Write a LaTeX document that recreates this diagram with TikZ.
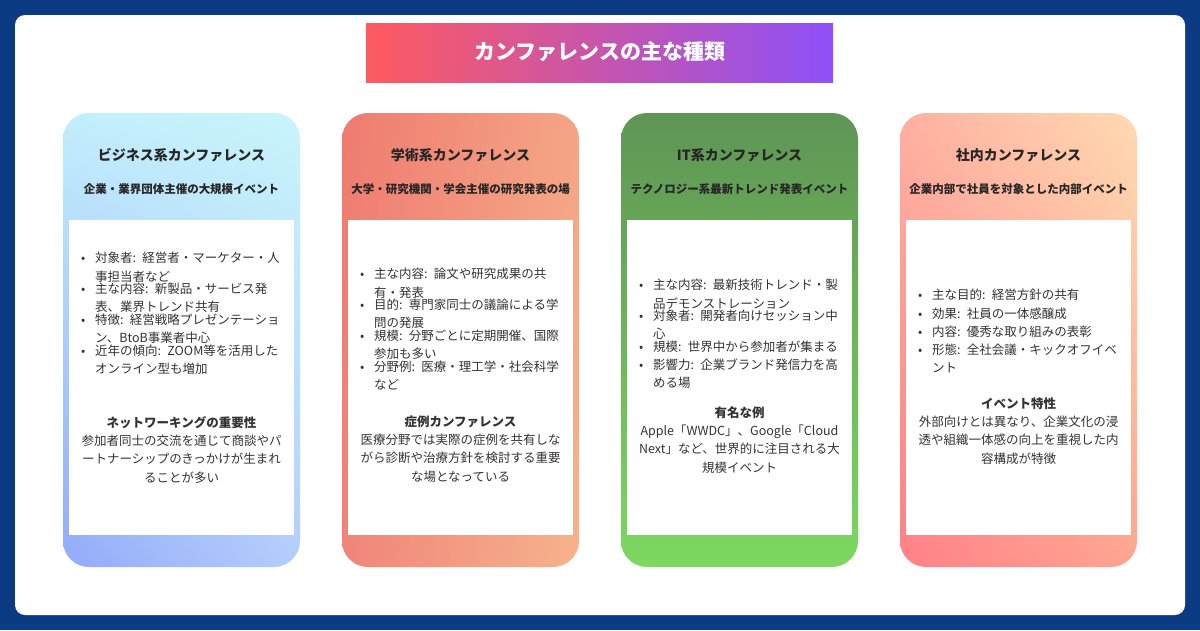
\documentclass[tikz,border=0pt]{standalone}
\usepackage{fontspec}
\setmainfont{Noto Sans CJK JP}
\usetikzlibrary{shadings}
\definecolor{bgblue}{HTML}{0B3B82}
\definecolor{txt}{HTML}{333333}
\definecolor{tl}{HTML}{FF5A5F}\definecolor{tr}{HTML}{8E50F8}
\definecolor{aUL}{HTML}{C3EEFC}\definecolor{aUR}{HTML}{C8F5FB}\definecolor{aLL}{HTML}{93AAFA}\definecolor{aLR}{HTML}{B4CEFB}
\definecolor{bUL}{HTML}{EF7B70}\definecolor{bUR}{HTML}{F4A585}\definecolor{bLL}{HTML}{F0857A}\definecolor{bLR}{HTML}{F6B38C}
\definecolor{cT}{HTML}{5F9555}\definecolor{cB}{HTML}{7CD860}
\definecolor{dUL}{HTML}{FFB0A0}\definecolor{dUR}{HTML}{FFDAB2}\definecolor{dLL}{HTML}{FF8088}\definecolor{dLR}{HTML}{FFA590}
\newcommand\bu[1]{\noindent\makebox[14pt][l]{\textbullet}\parbox[t]{200pt}{\fontsize{12.5}{18.3}\selectfont #1}\par}
\tikzset{
 card/.style={rounded corners=26pt},
 ctitle/.style={font=\bfseries\fontsize{14}{16}\selectfont, text=black!85},
 csub/.style={font=\bfseries\fontsize{11.5}{14}\selectfont, text=black!85},
 blist/.style={anchor=north west, text width=218pt, inner sep=0pt, text=txt, font=\fontsize{12.5}{18.3}\selectfont},
 head/.style={font=\bfseries\fontsize{12.5}{15}\selectfont, text=txt},
 para/.style={align=center, text=txt, inner sep=0pt, font=\fontsize{12.5}{18.3}\selectfont},
}
\begin{document}
\begin{tikzpicture}[x=1pt,y=-1pt]
\fill[bgblue] (0,0) rectangle (1200,630);
\useasboundingbox (0,0) rectangle (1200,630);
\fill[white,rounded corners=10pt] (15,15) rectangle (1185,615);
\shade[left color=tl, right color=tr] (366,23) rectangle (833,82);
\node[font=\bfseries\fontsize{21}{24}\selectfont, text=white] (title) at (600,52) {カンファレンスの主な種類};
% cards
\shade[card, upper left=aUL, upper right=aUR, lower left=aLL, lower right=aLR] (63,113) rectangle (300,567);
\shade[card, upper left=bUL, upper right=bUR, lower left=bLL, lower right=bLR] (342,113) rectangle (579,567);
\shade[card, top color=cT, bottom color=cB] (621,113) rectangle (858,567);
\shade[card, upper left=dUL, upper right=dUR, lower left=dLL, lower right=dLR] (900,113) rectangle (1137,567);
\foreach \x in {69,348,627,906} \fill[white] (\x,220) rectangle ({\x+225},535);
% card 1
\node[ctitle] (t1) at (181.5,155) {ビジネス系カンファレンス};
\node[csub] (s1) at (181.5,189) {企業・業界団体主催の大規模イベント};
\node[blist] (b1) at (81,252) {\bu{対象者: 経営者・マーケター・人\\事担当者など}\bu{主な内容: 新製品・サービス発\\表、業界トレンド共有}\bu{特徴: 経営戦略プレゼンテーショ\\ン、BtoB事業者中心}\bu{近年の傾向: ZOOM等を活用した\\オンライン型も増加}};
\node[head] (h1) at (181.5,423) {ネットワーキングの重要性};
\node[para] (p1) at (181.5,459) {参加者同士の交流を通じて商談やパ\\ートナーシップのきっかけが生まれ\\ることが多い};
% card 2
\node[ctitle] (t2) at (460.5,155) {学術系カンファレンス};
\node[csub] (s2) at (460.5,189) {大学・研究機関・学会主催の研究発表の場};
\node[blist] (b2) at (360,268) {\bu{主な内容: 論文や研究成果の共\\有・発表}\bu{目的: 専門家同士の議論による学\\問の発展}\bu{規模: 分野ごとに定期開催、国際\\参加も多い}\bu{分野例: 医療・理工学・社会科学\\など}};
\node[head] (h2) at (460.5,422) {症例カンファレンス};
\node[para] (p2) at (460.5,458) {医療分野では実際の症例を共有しな\\がら診断や治療方針を検討する重要\\な場となっている};
% card 3
\node[ctitle] (t3) at (739.5,155) {IT系カンファレンス};
\node[csub] (s3) at (739.5,189) {テクノロジー系最新トレンド発表イベント};
\node[blist] (b3) at (639,279) {\bu{主な内容: 最新技術トレンド・製\\品デモンストレーション}\bu{対象者: 開発者向けセッション中\\心}\bu{規模: 世界中から参加者が集まる}\bu{影響力: 企業ブランド発信力を高\\める場}};
\node[head] (h3) at (739.5,413) {有名な例};
\node[para] (p3) at (739.5,449) {Apple「WWDC」、Google「Cloud\\Next」など、世界的に注目される大\\規模イベント};
% card 4
\node[ctitle] (t4) at (1018.5,155) {社内カンファレンス};
\node[csub] (s4) at (1018.5,189) {企業内部で社員を対象とした内部イベント};
\node[blist] (b4) at (918,289) {\bu{主な目的: 経営方針の共有}\bu{効果: 社員の一体感醸成}\bu{内容: 優秀な取り組みの表彰}\bu{形態: 全社会議・キックオフイベ\\ント}};
\node[head] (h4) at (1018.5,404) {イベント特性};
\node[para] (p4) at (1018.5,440) {外部向けとは異なり、企業文化の浸\\透や組織一体感の向上を重視した内\\容構成が特徴};
\end{tikzpicture}
\end{document}
